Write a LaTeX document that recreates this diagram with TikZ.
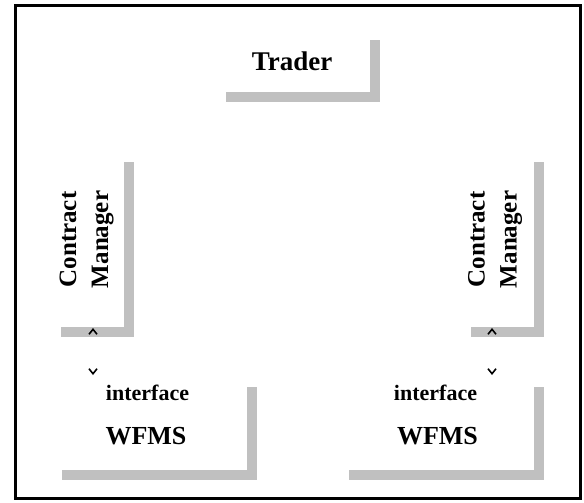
\documentclass[tikz,border=0pt]{standalone}
\usepackage{fontspec}
\setmainfont{Liberation Serif}
\usetikzlibrary{arrows.meta}
\usetikzlibrary{shadows}
\definecolor{shadegray}{RGB}{192,192,192}
\tikzset{>={Straight Barb[length=5pt,width=8pt]}}
\tikzset{
  box/.style={fill=white, inner sep=0pt,
    drop shadow={shadow xshift=10pt, shadow yshift=-10pt, fill=shadegray, opacity=1}},
  tradebox/.style={box, minimum width=154pt, minimum height=62pt},
  mgrbox/.style={box, minimum width=73pt, minimum height=175pt},
  wfbox/.style={box, minimum width=195pt, minimum height=93pt},
  bigtext/.style={font=\bfseries\fontsize{27}{30}\selectfont, inner sep=0pt},
  mgrtext/.style={font=\bfseries\fontsize{25}{32}\selectfont, rotate=90, align=center, inner sep=0pt},
  iftext/.style={font=\bfseries\fontsize{22}{26}\selectfont, inner sep=0pt, anchor=base},
  wftext/.style={font=\bfseries\fontsize{26}{30}\selectfont, inner sep=0pt, anchor=base},
  % only the heads of these links are shown
  tipsonly/.style={<->, line width=1.6pt, line cap=butt, dash pattern=on 0pt off 500pt}
}

\begin{document}
\begin{tikzpicture}[x=1pt,y=-1pt]
\useasboundingbox (0,0) rectangle (584,503);
\draw[line width=3pt] (15,6) rectangle (580,498.5);

% boxes with their grey shadows
\node[tradebox] (trader) at (293,61) {};
\node[mgrbox] (mgrL) at (87.5,239.5) {};
\node[mgrbox] (mgrR) at (497.5,239.5) {};
\node[wfbox] (wfL) at (149.5,423.5) {};
\node[wfbox] (wfR) at (436,423.5) {};

% texts
\node[bigtext, anchor=base] (traderT) at (292,70.5) {Trader};
\node[mgrtext] (mgrLT) at (86.5,239.5) {Contract\\Manager};
\node[mgrtext] (mgrRT) at (495,239.5) {Contract\\Manager};
\node[iftext] (ifLT) at (147.5,400) {interface};
\node[wftext] (wfLT) at (146,444) {WFMS};
\node[iftext] (ifRT) at (435.5,400) {interface};
\node[wftext] (wfRT) at (437.5,444) {WFMS};

% links between manager and interface
\coordinate (mgrLtip) at (93,328);
\coordinate (ifLtip) at (93,375);
\coordinate (mgrRtip) at (492,328);
\coordinate (ifRtip) at (492,375);
\draw[tipsonly] (ifLtip) -- (mgrLtip);
\draw[tipsonly] (ifRtip) -- (mgrRtip);
\end{tikzpicture}
\end{document}
